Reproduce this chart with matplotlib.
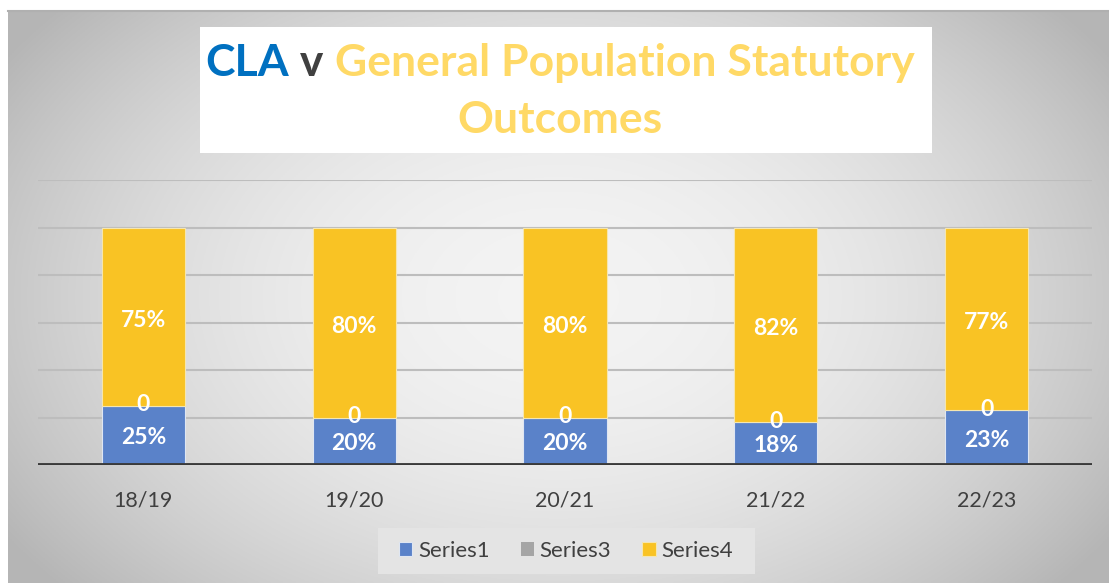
import numpy as np
import matplotlib.pyplot as plt
from matplotlib.patches import Rectangle

# data
years = ['18/19', '19/20', '20/21', '21/22', '22/23']
series1 = [0.25, 0.20, 0.20, 0.18, 0.23]
series3 = [0, 0, 0, 0, 0]
series4 = [0.75, 0.80, 0.80, 0.82, 0.77]

blue = '#5a82c9'
grey = '#a5a5a5'
yellow = '#f9c324'
txt = '#404040'
font = 'Lato'

W, H = 1109, 583
fig = plt.figure(figsize=(W / 100, H / 100), dpi=100)
fig.patch.set_facecolor('white')

# gradient background panel
bg = fig.add_axes([8 / W, 0, 1 - 8 / W, (H - 11) / H])
bg.set_axis_off()
yy, xx = np.mgrid[-1:1:300j, -1:1:600j]
r = np.sqrt((xx / 1.0) ** 2 + (yy / 1.3) ** 2)
shade = 0.955 - 0.17 * np.clip(r, 0, 1.2) ** 2
bg.imshow(np.dstack([shade] * 3), aspect='auto', extent=[0, 1, 0, 1], zorder=0)
bg.plot([0, 1], [1, 1], color='#b0b0b0', lw=1.5, transform=bg.transAxes, clip_on=False)

# main axes
ax = fig.add_axes([38 / W, 1 - 465 / H, (1092 - 38) / W, (465 - 180) / H])
ax.set_facecolor('none')
x = np.arange(len(years))
ax.set_xlim(-0.5, len(years) - 0.5)
ax.set_ylim(0, 1.2)
for s in ax.spines.values():
    s.set_visible(False)
ax.set_yticks(np.arange(0.2, 1.21, 0.2))
ax.yaxis.grid(True, color='#bdbdbd', lw=1.5)
ax.set_axisbelow(True)
ax.tick_params(left=False, labelleft=False, bottom=False)
ax.set_xticks(x)
ax.set_xticklabels(years, fontsize=15.5, color=txt, family=font)
ax.tick_params(axis='x', pad=15)
ax.axhline(0, color='#3a3a3a', lw=3.5, zorder=5)

bw = 0.395
b1 = ax.bar(x, series1, bw, color=blue, edgecolor='#dfe6f2', lw=0.8, label='Series1')
b3 = ax.bar(x, series3, bw, bottom=series1, color=grey, label='Series3')
bottom4 = np.array(series1) + np.array(series3)
b4 = ax.bar(x, series4, bw, bottom=bottom4, color=yellow, edgecolor='#f5e6b0', lw=0.8, label='Series4')

lab = dict(color='white', fontsize=16.5, fontweight='bold', family=font, ha='center', va='center')
for i in range(len(years)):
    ax.text(x[i], series1[i] / 2 - 0.01, f'{series1[i]:.0%}', **lab)
    ax.text(x[i], series1[i] + series3[i] + 0.005, f'{series3[i]:.0f}', **lab)
    ax.text(x[i], bottom4[i] + series4[i] / 2 - 0.015, f'{series4[i]:.0%}', **lab)

# legend
fig.patches.append(Rectangle((378 / W, 1 - 574 / H), (755 - 378) / W, 46 / H,
                             transform=fig.transFigure, facecolor='#e4e4e4', edgecolor='none'))
leg = fig.legend(handles=[b1, b3, b4], loc='center', bbox_to_anchor=(566 / W, 1 - 551 / H),
                 ncol=3, frameon=False, prop={'family': font, 'size': 16},
                 handlelength=0.6, handleheight=0.6, handletextpad=0.25, columnspacing=1.4)
for t in leg.get_texts():
    t.set_color(txt)

# title box
fig.patches.append(Rectangle((200 / W, 1 - 153 / H), (932 - 200) / W, (153 - 27) / H,
                             transform=fig.transFigure, facecolor='white', edgecolor='none'))
tsize = 32
parts = [('CLA', '#0070c0'), (' v ', '#404040'), ('General Population Statutory', '#ffd966')]
renderer = fig.canvas.get_renderer()
texts = []
for s, c in parts:
    texts.append(fig.text(0, 1 - 63 / H, s, color=c, fontsize=tsize, fontweight='bold',
                          family=font, va='center', ha='left'))
widths = [t.get_window_extent(renderer).width for t in texts]
xpos = 560 - sum(widths) / 2
for t, w in zip(texts, widths):
    t.set_x(xpos / W)
    xpos += w
fig.text(560 / W, 1 - 120 / H, 'Outcomes', color='#ffd966', fontsize=tsize, fontweight='bold',
         family=font, va='center', ha='center')

fig.savefig('out.png', dpi=100)
